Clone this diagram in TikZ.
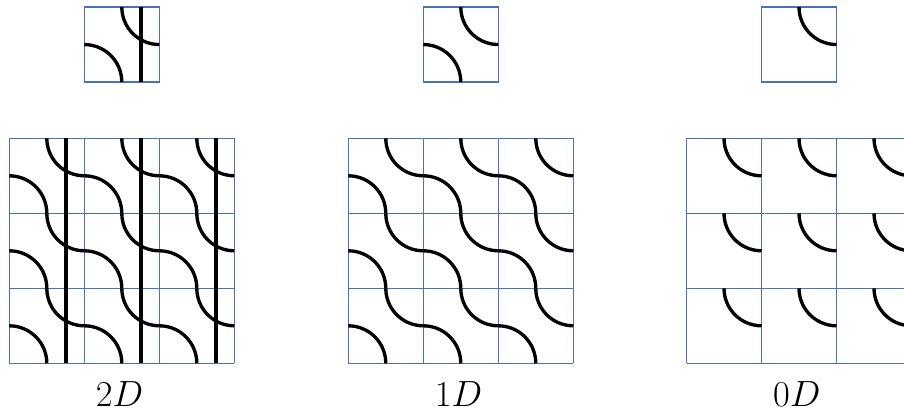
\documentclass[tikz,border=0pt]{standalone}
\usepackage{tikz}
\definecolor{gridblue}{RGB}{72,114,186}

% one quarter arc in the lower left / upper right corner of a cell
\newcommand{\cornerSW}[2]{\draw[wire] (#1,#2+0.5) arc[start angle=90, end angle=0, radius=0.5];}
\newcommand{\cornerNE}[2]{\draw[wire] (#1+0.5,#2+1) arc[start angle=180, end angle=270, radius=0.5];}

\begin{document}
\begin{tikzpicture}[
  x=1.5cm, y=1.5cm,
  cellline/.style={draw=gridblue, line width=0.8pt, step=1.5cm},
  wire/.style={line width=1.9pt},
  bar/.style={line width=2.4pt},
  lbl/.style={font=\fontsize{21}{25}\selectfont}
]
  \useasboundingbox (-0.124,-0.636) rectangle (11.93,4.844);

  % 2D
  \draw[cellline] (0,0) grid (3,3);
  \draw[cellline] (1,3.75) rectangle (2,4.75);
  \foreach \i in {0,1,2}
    \foreach \j in {0,1,2} {\cornerSW{\i}{\j} \cornerNE{\i}{\j}}
  \foreach \i in {0,1,2}
    \draw[bar] (\i+0.756,0) -- (\i+0.756,3);
  \cornerSW{1}{3.75} \cornerNE{1}{3.75}
  \draw[bar] (1.756,3.75) -- (1.756,4.75);
  \node[lbl] (two) at (1.47,-0.41) {$2D$};

  % 1D
  \begin{scope}[shift={(4.52,0)}]
    \draw[cellline] (0,0) grid (3,3);
    \draw[cellline] (1,3.75) rectangle (2,4.75);
    \foreach \i in {0,1,2}
      \foreach \j in {0,1,2} {\cornerSW{\i}{\j} \cornerNE{\i}{\j}}
    \cornerSW{1}{3.75} \cornerNE{1}{3.75}
    \node[lbl] (one) at (1.47,-0.41) {$1D$};
  \end{scope}

  % 0D
  \begin{scope}[shift={(9.03,0)}]
    \draw[cellline] (0,0) grid (3,3);
    \draw[cellline] (1,3.75) rectangle (2,4.75);
    \foreach \i in {0,1,2}
      \foreach \j in {0,1,2} {\cornerNE{\i}{\j}}
    \cornerNE{1}{3.75}
    \node[lbl] (zero) at (1.47,-0.41) {$0D$};
  \end{scope}
\end{tikzpicture}
\end{document}
